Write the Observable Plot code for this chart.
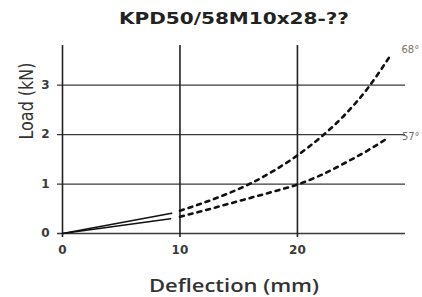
<!DOCTYPE html>
<html>
<head>
<meta charset="utf-8">
<script src="https://cdn.jsdelivr.net/npm/d3@7"></script>
<script src="https://cdn.jsdelivr.net/npm/@observablehq/plot@0.6"></script>
<style>
  html, body { margin: 0; padding: 0; background: #fff; }
</style>
</head>
<body>
<div id="chart"></div>
<script>
// ---- data ----
const title = "KPD50/58M10x28-??";
const xLabel = "Deflection (mm)";
const yLabel = "Load (kN)";
const xTicks = [0, 10, 20];
const yTicks = [0, 1, 2, 3];

// measured (solid) segments
const solid68X = [0, 9.3];
const solid68Y = [0, 0.41];
const solid57X = [0, 9.2];
const solid57Y = [0, 0.30];

// extrapolated (dashed) segments
const dash68X = [10, 12, 14, 16, 18, 20, 22, 24, 26, 28];
const dash68Y = [0.46, 0.62, 0.80, 1.01, 1.27, 1.58, 1.95, 2.39, 2.94, 3.63];
const dash57X = [10, 12, 14, 16, 18, 20, 22, 24, 26, 27.7];
const dash57Y = [0.34, 0.46, 0.59, 0.72, 0.85, 0.99, 1.18, 1.42, 1.68, 1.93];

const seriesLabels = ["68°", "57°"];

// ---- build tables ----
const toRows = (xs, ys, s) => xs.map((x, i) => ({x, y: ys[i], s}));
const solid = [...toRows(solid68X, solid68Y, seriesLabels[0]), ...toRows(solid57X, solid57Y, seriesLabels[1])];
const dashed = [...toRows(dash68X, dash68Y, seriesLabels[0]), ...toRows(dash57X, dash57Y, seriesLabels[1])];

const chart = Plot.plot({
  width: 422,
  height: 297,
  marginTop: 45,
  marginBottom: 64,
  marginLeft: 62,
  marginRight: 17,
  x: {domain: [0, 29.2]},
  y: {domain: [0, 3.8]},
  style: {fontFamily: "DejaVu Sans", background: "#fff", overflow: "visible"},
  marks: [
    Plot.ruleY(yTicks, {stroke: "#3a3a3a", strokeWidth: 1.3, insetLeft: -5}),
    Plot.ruleX(xTicks, {stroke: "#222", strokeWidth: 1.6, insetBottom: -4}),
    Plot.axisY(yTicks, {tickSize: 0, tickPadding: 13, fontSize: 12, fontWeight: "bold", fill: "#3a3a3a", label: null}),
    Plot.axisX(xTicks, {tickSize: 0, tickPadding: 12, fontSize: 12, fontWeight: "bold", fill: "#3a3a3a", label: null}),
    Plot.line(solid, {x: "x", y: "y", z: "s", stroke: "#111", strokeWidth: 1.5}),
    Plot.line(dashed, {x: "x", y: "y", z: "s", stroke: "#111", strokeWidth: 2.6, strokeDasharray: "4,5", curve: "monotone-x"}),
    Plot.text(dashed.filter(d => d.s === seriesLabels[0]), Plot.selectLast({x: "x", y: "y", text: "s", dx: 10, dy: -4, textAnchor: "start", fontSize: 10, fill: "#7a7060"})),
    Plot.text(dashed.filter(d => d.s === seriesLabels[1]), Plot.selectLast({x: "x", y: "y", text: "s", dx: 14, dy: -1, textAnchor: "start", fontSize: 10, fill: "#707070"})),
    Plot.text([title], {frameAnchor: "top", dy: -26.8, fontSize: 16, fontWeight: "bold", fill: "#222", lineAnchor: "middle"}),
    Plot.text([xLabel], {frameAnchor: "bottom", dy: 53, fontFamily: "Open Sans", fontSize: 18, fontWeight: 600, fill: "#333", lineAnchor: "middle"}),
    Plot.text([yLabel], {frameAnchor: "left", dx: -36, rotate: -90, fontSize: 19, fill: "#333", lineAnchor: "middle"})
  ]
});

// stretch text widths to match the reference proportions
const lengths = {[title]: 230, [xLabel]: 170, [yLabel]: 77};
d3.select(chart).selectAll("text").each(function() {
  const t = this.textContent;
  if (lengths[t]) {
    this.setAttribute("textLength", lengths[t]);
    this.setAttribute("lengthAdjust", "spacingAndGlyphs");
  }
});

document.getElementById("chart").appendChild(chart);
</script>
</body>
</html>
